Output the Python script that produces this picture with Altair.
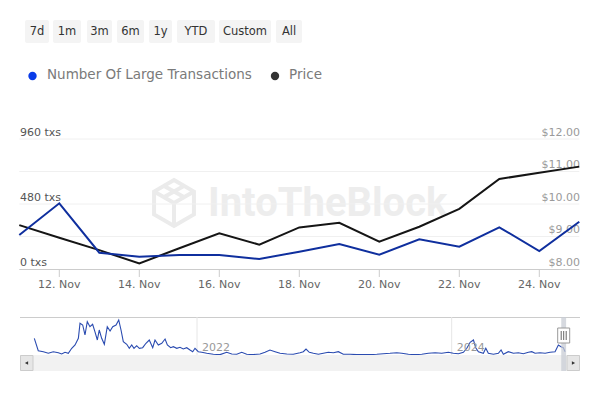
import altair as alt
import pandas as pd

# ---------------- data ----------------
days = ["2024-11-11", "2024-11-12", "2024-11-13", "2024-11-14", "2024-11-15",
        "2024-11-16", "2024-11-17", "2024-11-18", "2024-11-19", "2024-11-20",
        "2024-11-21", "2024-11-22", "2024-11-23", "2024-11-24", "2024-11-25"]
large_tx = [251, 485, 120, 91, 103, 103, 74, 128, 185, 106, 219, 165, 308, 133, 349]
price = [9.35, 8.96, 8.58, 8.17, 8.64, 9.10, 8.75, 9.28, 9.42, 8.84, 9.30, 9.85,
         10.77, 10.96, 11.15]

tick_days = [12, 14, 16, 18, 20, 22, 24]
tick_labels = ["12. Nov", "14. Nov", "16. Nov", "18. Nov", "20. Nov", "22. Nov", "24. Nov"]
left_ticks = [0, 480, 960]
left_labels = ["0 txs", "480 txs", "960 txs"]
grid_tx = [240, 480, 720, 960]
right_ticks = [8, 9, 10, 11, 12]
right_labels = ["$8.00", "$9.00", "$10.00", "$11.00", "$12.00"]

# navigator (full history, decimal years)
nav_year = [2020.722, 2020.753, 2020.793, 2020.832, 2020.871, 2020.911, 2020.937, 2020.963,
            2020.989, 2021.016, 2021.042, 2021.068, 2021.081, 2021.102, 2021.120, 2021.138,
            2021.159, 2021.180, 2021.198, 2021.217, 2021.232, 2021.251, 2021.272, 2021.295,
            2021.317, 2021.338, 2021.364, 2021.385, 2021.403, 2021.421, 2021.448, 2021.468,
            2021.487, 2021.505, 2021.526, 2021.547, 2021.573, 2021.599, 2021.625, 2021.652,
            2021.670, 2021.696, 2021.723, 2021.749, 2021.767, 2021.793, 2021.814, 2021.841,
            2021.866, 2021.892, 2021.919, 2021.945, 2021.966, 2021.984, 2022.010, 2022.037,
            2022.076, 2022.128, 2022.181, 2022.233, 2022.273, 2022.312, 2022.351, 2022.390,
            2022.442, 2022.495, 2022.534, 2022.573, 2022.613, 2022.652, 2022.705, 2022.756,
            2022.809, 2022.835, 2022.856, 2022.882, 2022.914, 2022.953, 2022.992, 2023.031,
            2023.071, 2023.110, 2023.149, 2023.202, 2023.255, 2023.306, 2023.359, 2023.412,
            2023.463, 2023.516, 2023.569, 2023.608, 2023.660, 2023.712, 2023.765, 2023.817,
            2023.870, 2023.922, 2023.974, 2024.013, 2024.053, 2024.092, 2024.119, 2024.145,
            2024.171, 2024.189, 2024.210, 2024.249, 2024.268, 2024.288, 2024.328, 2024.367,
            2024.388, 2024.406, 2024.445, 2024.485, 2024.524, 2024.563, 2024.603, 2024.629,
            2024.655, 2024.694, 2024.734, 2024.773, 2024.812, 2024.838, 2024.859, 2024.877,
            2024.891]
nav_value = [813, 209, 161, 83, 161, 112, 49, 131,
             83, 326, 487, 813, 1544, 1461, 974, 1622,
             1378, 1495, 1135, 730, 1217, 813, 521, 1378,
             1169, 1378, 1461, 1704, 1217, 648, 521, 326,
             487, 326, 453, 326, 356, 570, 730, 356,
             730, 487, 570, 779, 487, 356, 404, 326,
             375, 292, 356, 243, 161, 326, 161, 131,
             83, 34, 20, 131, 49, 34, 131, 34,
             20, 49, 131, 243, 161, 83, 49, 34,
             112, 161, 292, 131, 83, 34, 83, 131,
             112, 161, 34, 34, 20, 20, 20, 34,
             63, 83, 112, 83, 34, 20, 34, 83,
             112, 83, 131, 83, 63, 131, 326, 618,
             730, 356, 161, 83, 326, 83, 34, 83,
             243, 34, 161, 83, 112, 63, 131, 161,
             83, 112, 83, 131, 161, 487, 404, 356,
             161]
nav_grid_years = [2022, 2024]
nav_grid_labels = ["2022", "2024"]

buttons = ["7d", "1m", "3m", "6m", "1y", "YTD", "Custom", "All"]

# ---------------- layout ----------------
FONT = "DejaVu Sans"
MX0, MX1 = 19.3, 579.3
MY0, MY1 = 269, 139
NX0, NX1 = 20, 580
NY0, NY1 = 355, 317
btn_left = [25, 53, 87, 117, 149, 177, 219, 276]
btn_right = [49, 81, 112, 144, 172, 215, 271, 302]

BLUE = "#0f2f9e"
BLACK = "#151515"

df = pd.DataFrame({"date": pd.to_datetime(days), "tx": large_tx, "price": price})
df["day"] = df["date"].dt.day
df["year"] = 2024 + (df["date"].dt.dayofyear - 1) / 366.0

nav = pd.DataFrame({"year": nav_year, "v": nav_value})

x_main = alt.Scale(domain=[11, 25], range=[MX0, MX1], nice=False, zero=False)
y_tx = alt.Scale(domain=[0, 960], range=[MY0, MY1], nice=False, zero=False)
y_px = alt.Scale(domain=[8, 12], range=[MY0, MY1], nice=False, zero=False)
x_nav = alt.Scale(domain=[2020.6096, 2025.0079], range=[NX0, NX1], nice=False, zero=False)
y_nav = alt.Scale(domain=[0, 1850], range=[NY0, NY1], nice=False, zero=False)
pix = alt.Scale(domain=[0, 600], range=[0, 600], nice=False, zero=False)

one = pd.DataFrame({"a": [0]})
layers = []

# buttons
bdf = pd.DataFrame({"label": buttons, "l": btn_left, "r": btn_right})
bdf["c"] = (bdf["l"] + bdf["r"]) / 2
layers.append(alt.Chart(bdf).mark_rect(fill="#f4f4f4", cornerRadius=2).encode(
    x=alt.X("l:Q", scale=pix, axis=None), x2="r:Q",
    y=alt.value(20), y2=alt.value(43)))
layers.append(alt.Chart(bdf).mark_text(font=FONT, fontSize=11.5, color="#333333",
                                       align="center", baseline="middle").encode(
    x=alt.X("c:Q", scale=pix, axis=None), y=alt.value(32), text="label:N"))

# legend
layers.append(alt.Chart(one).mark_point(filled=True, shape="circle", size=70, color="#0a3ce8", opacity=1).encode(
    x=alt.value(32.5), y=alt.value(76)))
layers.append(alt.Chart(one).mark_point(filled=True, shape="circle", size=70, color="#333333", opacity=1).encode(
    x=alt.value(275), y=alt.value(76)))
layers.append(alt.Chart(one).mark_text(font=FONT, fontSize=13.5, color="#7a7a7a", align="left",
                                       baseline="middle", text="Number Of Large Transactions").encode(
    x=alt.value(47), y=alt.value(75)))
layers.append(alt.Chart(one).mark_text(font=FONT, fontSize=13.5, color="#7a7a7a", align="left",
                                       baseline="middle", text="Price").encode(
    x=alt.value(289), y=alt.value(75)))

# watermark
layers.append(alt.Chart(one).mark_text(font="Roboto", fontSize=40, fontWeight="bold", color="#ededed",
                                       align="left", baseline="middle", text="IntoTheBlock").encode(
    x=alt.value(208), y=alt.value(204)))
cube = ("M0,-1L0.87,-0.5L0.87,0.5L0,1L-0.87,0.5L-0.87,-0.5Z"
        "M-0.87,-0.5L0,0L0.87,-0.5M0,0L0,1M-0.45,-0.75L0.45,-0.25M0.45,-0.75L-0.45,-0.25")
layers.append(alt.Chart(one).mark_point(shape=cube, size=2100, filled=False, color="#ebebeb",
                                        strokeWidth=4, opacity=1).encode(
    x=alt.value(174), y=alt.value(203)))

# main gridlines
gdf = pd.DataFrame({"g": grid_tx})
layers.append(alt.Chart(gdf).mark_rule(color="#f0f0f0", strokeWidth=1).encode(
    y=alt.Y("g:Q", scale=y_tx, axis=None), x=alt.value(MX0), x2=alt.value(MX1)))
# x axis line + ticks
layers.append(alt.Chart(one).mark_rule(color="#cccccc", strokeWidth=1).encode(
    y=alt.value(MY0 + 0.5), x=alt.value(MX0), x2=alt.value(MX1)))
tdf = pd.DataFrame({"d": tick_days, "lab": tick_labels})
layers.append(alt.Chart(tdf).mark_rule(color="#cccccc", strokeWidth=1).encode(
    x=alt.X("d:Q", scale=x_main, axis=None), y=alt.value(MY0), y2=alt.value(MY0 + 8)))
layers.append(alt.Chart(tdf).mark_text(font=FONT, fontSize=11, color="#666666", align="center",
                                       baseline="middle").encode(
    x=alt.X("d:Q", scale=x_main, axis=None), y=alt.value(284.5), text="lab:N"))
# left labels
ldf = pd.DataFrame({"v": left_ticks, "lab": left_labels})
layers.append(alt.Chart(ldf).mark_text(font=FONT, fontSize=11, color="#555555", align="left",
                                       baseline="middle", dy=-6.5).encode(
    y=alt.Y("v:Q", scale=y_tx, axis=None), x=alt.value(20), text="lab:N"))
# right labels
rdf = pd.DataFrame({"v": right_ticks, "lab": right_labels})
layers.append(alt.Chart(rdf).mark_text(font=FONT, fontSize=11, color="#9a9a9a", align="right",
                                       baseline="middle", dy=-6.5).encode(
    y=alt.Y("v:Q", scale=y_px, axis=None), x=alt.value(580), text="lab:N"))

# series
layers.append(alt.Chart(df).mark_line(color=BLACK, strokeWidth=2).encode(
    x=alt.X("day:Q", scale=x_main, axis=None), y=alt.Y("price:Q", scale=y_px, axis=None)))
layers.append(alt.Chart(df).mark_line(color=BLUE, strokeWidth=2).encode(
    x=alt.X("day:Q", scale=x_main, axis=None), y=alt.Y("tx:Q", scale=y_tx, axis=None)))

# navigator
layers.append(alt.Chart(one).mark_rule(color="#cccccc", strokeWidth=1).encode(
    y=alt.value(NY1 + 0.5), x=alt.value(NX0), x2=alt.value(NX1)))
ngdf = pd.DataFrame({"y": nav_grid_years, "lab": nav_grid_labels})
layers.append(alt.Chart(ngdf).mark_rule(color="#e6e6e6", strokeWidth=1).encode(
    x=alt.X("y:Q", scale=x_nav, axis=None), y=alt.value(NY1), y2=alt.value(NY0)))
layers.append(alt.Chart(nav).mark_line(color="#2a4bb0", strokeWidth=1.1).encode(
    x=alt.X("year:Q", scale=x_nav, axis=None), y=alt.Y("v:Q", scale=y_nav, axis=None)))
layers.append(alt.Chart(ngdf).mark_text(font=FONT, fontSize=11, color="#999999", align="left",
                                        baseline="middle", dx=5).encode(
    x=alt.X("y:Q", scale=x_nav, axis=None), y=alt.value(348), text="lab:N"))
# scrollbar
layers.append(alt.Chart(one).mark_rect(fill="#f2f2f2").encode(
    x=alt.value(NX0), x2=alt.value(NX1), y=alt.value(NY0), y2=alt.value(371)))
layers.append(alt.Chart(one).mark_rect(fill="#e6e6e6", stroke="#cccccc", strokeWidth=1).encode(
    x=alt.value(NX0 + 0.5), x2=alt.value(NX0 + 13), y=alt.value(NY0 + 0.5), y2=alt.value(370.5)))
layers.append(alt.Chart(one).mark_rect(fill="#e6e6e6", stroke="#cccccc", strokeWidth=1).encode(
    x=alt.value(NX1 - 13), x2=alt.value(NX1 - 0.5), y=alt.value(NY0 + 0.5), y2=alt.value(370.5)))
layers.append(alt.Chart(one).mark_point(shape="triangle-left", filled=True, size=14, color="#333333", opacity=1).encode(
    x=alt.value(NX0 + 6.5), y=alt.value(363)))
layers.append(alt.Chart(one).mark_point(shape="triangle-right", filled=True, size=14, color="#333333", opacity=1).encode(
    x=alt.value(NX1 - 6.5), y=alt.value(363)))
# selected range mask
sel = pd.DataFrame({"a": [df["year"].min()], "b": [df["year"].max()]})
layers.append(alt.Chart(sel).mark_rect(fill="#c8ccd4", opacity=0.75).encode(
    x=alt.X("a:Q", scale=x_nav, axis=None), x2="b:Q", y=alt.value(NY1), y2=alt.value(371)))
sel["m"] = (sel["a"] + sel["b"]) / 2
layers.append(alt.Chart(sel).mark_rect(fill="#ffffff", stroke="#999999", strokeWidth=1,
                                       xOffset=-6, x2Offset=6).encode(
    x=alt.X("m:Q", scale=x_nav, axis=None), x2="m:Q", y=alt.value(328), y2=alt.value(343)))
for off in (-2.5, 0, 2.5):
    layers.append(alt.Chart(sel).mark_rule(color="#666666", strokeWidth=1, xOffset=off).encode(
        x=alt.X("m:Q", scale=x_nav, axis=None), y=alt.value(331), y2=alt.value(340)))

chart = alt.layer(*layers).resolve_scale(x="independent", y="independent").properties(
    width=600, height=400, autosize="none", padding=0, background="#ffffff"
).configure_view(stroke=None)

chart.save("out.html", embed_options={"renderer": "svg", "actions": False})
